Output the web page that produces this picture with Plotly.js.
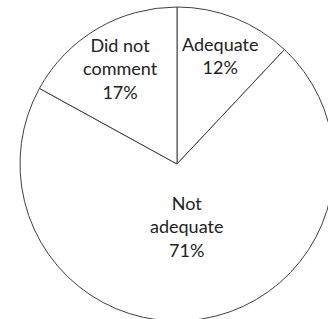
<!DOCTYPE html>
<html>
<head>
<meta charset="utf-8">
<script src="https://cdn.plot.ly/plotly-3.0.1.min.js"></script>
<style>
html,body{margin:0;padding:0;overflow:hidden;background:#fff;width:328px;height:319px;}
#chart{width:360px;height:340px;}
</style>
</head>
<body>
<div id="chart"></div>
<script>
const labels = ["Adequate", "Not<br>adequate", "Did not<br>comment"];
const values = [12, 71, 17];

// label placement (radial fraction of the pie radius) per slice
const labelRadius = [0.74, 0.40, 0.71];

const total = values.reduce((a, b) => a + b, 0);
const annotations = [];
let start = 0;
values.forEach((v, i) => {
  const mid = (start + v / 2) / total * 2 * Math.PI; // clockwise from 12 o'clock
  start += v;
  const f = labelRadius[i];
  annotations.push({
    xref: "paper", yref: "paper",
    x: 0.5 + 0.5 * f * Math.sin(mid),
    y: 0.5 + 0.5 * f * Math.cos(mid),
    xanchor: "center", yanchor: "middle",
    text: labels[i] + "<br>" + Math.round(v / total * 100) + "%",
    showarrow: false,
    align: "center",
    font: {family: "Lato, sans-serif", size: 18, color: "#222"}
  });
});

Plotly.newPlot("chart", [{
  type: "pie",
  labels: labels,
  values: values,
  sort: false,
  direction: "clockwise",
  rotation: 0,
  marker: {colors: ["#ffffff", "#ffffff", "#ffffff"], line: {color: "#404040", width: 1}},
  textinfo: "none",
  hoverinfo: "none",
  showlegend: false
}], {
  width: 360,
  height: 340,
  margin: {l: 20, r: 26, t: 7, b: 19},
  paper_bgcolor: "#ffffff",
  plot_bgcolor: "#ffffff",
  showlegend: false,
  annotations: annotations
}, {staticPlot: true, displayModeBar: false});
</script>
</body>
</html>
